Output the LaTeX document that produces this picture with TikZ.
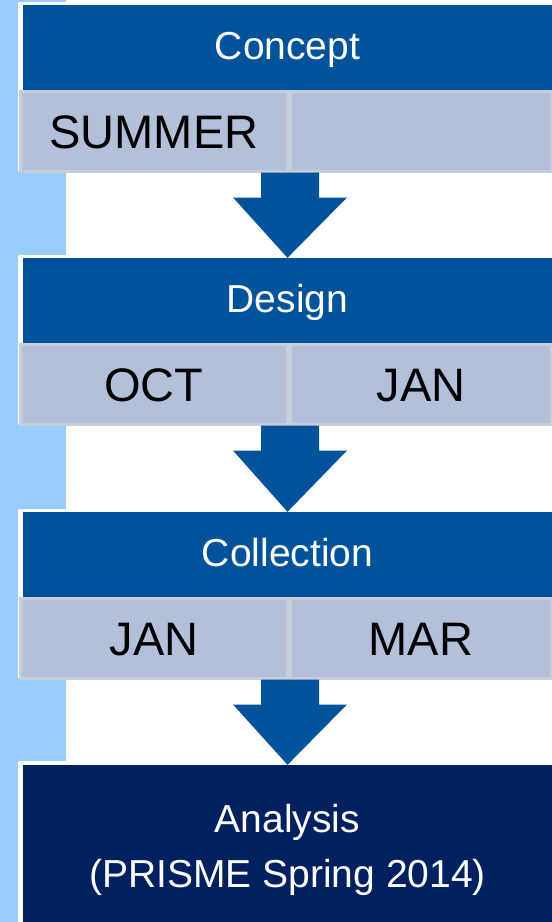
\documentclass[tikz,border=0pt]{standalone}
\usepackage{fontspec}
\setmainfont{Liberation Sans}
\usepackage{tikz}
\usetikzlibrary{calc}

\definecolor{hdrblue}{RGB}{0,82,155}
\definecolor{navy}{RGB}{0,32,96}
\definecolor{sideblue}{RGB}{153,204,255}
\definecolor{cellfill}{RGB}{178,192,218}
\definecolor{cellline}{RGB}{200,205,218}

\tikzset{
  header/.style={fill=hdrblue, text=white, minimum width=529pt, minimum height=85pt,
    inner sep=0pt, text height=32pt, text depth=8pt,
    font=\fontsize{39}{47}\selectfont},
  cellbox/.style={fill=cellfill, draw=cellline, line width=3pt, minimum height=80pt,
    inner sep=0pt, text height=34pt, text depth=0pt,
    font=\fontsize{47}{56}\selectfont},
  blockarrow/.style={fill=hdrblue}
}

\begin{document}
\begin{tikzpicture}[x=1pt,y=-1pt]
    \useasboundingbox (0,0) rectangle (552,922);
    % Background strip on the left
    \fill[sideblue] (0,0) rectangle (66,922);

    % Stages with their months
    \foreach \i/\y/\title/\lft/\rgt in {1/0/Concept/SUMMER/{}, 2/253/Design/OCT/JAN, 3/507/Collection/JAN/MAR} {
        \fill[white, rounded corners=2pt] (18,2+\y) rectangle (552,172+\y);
        \node[header] (head\i) at (287.5,47.5+\y) {\title};
        \node[cellbox, minimum width=267pt] (cellL\i) at (154,131+\y) {\lft};
        \node[cellbox, minimum width=261pt] (cellR\i) at (421,131+\y) {\rgt};
    }

    % Last stage (runs past the bottom edge)
    \fill[white, rounded corners=2pt] (18,761) rectangle (552,934);
    \node[header, fill=navy, minimum height=169pt, text height=, text depth=, align=center,
      font=\fontsize{39}{55}\selectfont] (head4) at (287.5,849.5)
      {Analysis\\(PRISME Spring 2014)};

    % Block arrows between the stages
    \foreach \i/\j in {1/2, 2/3, 3/4} {
        \coordinate (top\i) at ($(cellL\i.south east)+(1,0)$);
        \fill[blockarrow] ($(top\i)+(-29,0)$) -- ($(top\i)+(-29,25)$) -- ($(top\i)+(-57,25)$)
            -- (head\j.north) -- ($(top\i)+(57,25)$) -- ($(top\i)+(29,25)$)
            -- ($(top\i)+(29,0)$) -- cycle;
    }
\end{tikzpicture}
\end{document}
